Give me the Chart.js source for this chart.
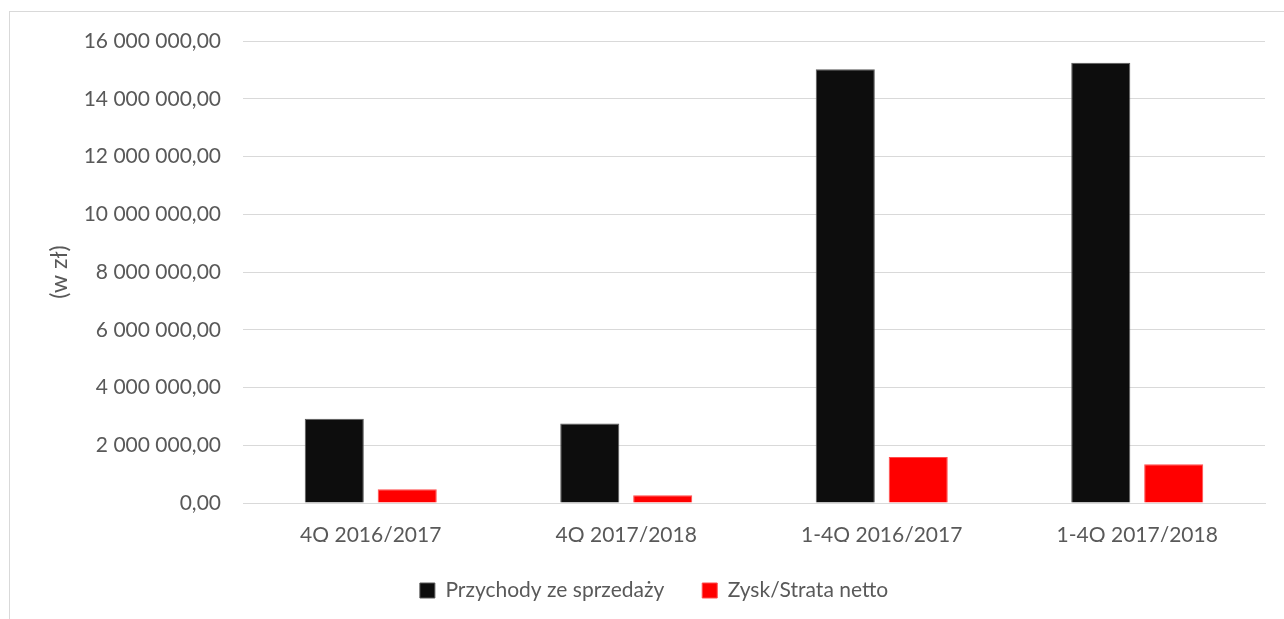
<!DOCTYPE html>
<html>
<head>
<meta charset="utf-8">
<script src="https://cdn.jsdelivr.net/npm/chart.js@4"></script>
<style>
  html, body { margin: 0; padding: 0; background: #fff; }
  body { width: 1284px; height: 619px; position: relative; overflow: hidden; }
  #frame {
    position: absolute; left: 9px; top: 11px; width: 1400px; height: 700px;
    border: 1px solid #d9d9d9;
  }
  #wrap { position: absolute; left: 0; top: 0; width: 1284px; height: 619px; }
</style>
</head>
<body>
<div id="frame"></div>
<div id="wrap"><canvas id="chart" width="1284" height="619"></canvas></div>
<script>
// kategorie i serie (w zł)
const categories = ['4Q 2016/2017', '4Q 2017/2018', '1-4Q 2016/2017', '1-4Q 2017/2018'];
const przychody = [2920000, 2750000, 15020000, 15250000];
const zysk = [475000, 270000, 1590000, 1340000];
const seriesNames = ['Przychody ze sprzedaży', 'Zysk/Strata netto'];
const yTicks = [0, 2000000, 4000000, 6000000, 8000000, 10000000, 12000000, 14000000, 16000000];

const textColor = '#595959';
const fontFamily = "Lato, 'Open Sans', sans-serif";
const fontSize = 21;

function formatPL(v) {
    const s = Math.round(v).toString().replace(/\B(?=(\d{3})+(?!\d))/g, ' ');
    return s + ',00';
}

const ctx = document.getElementById('chart').getContext('2d');
new Chart(ctx, {
    type: 'bar',
    data: {
        labels: categories,
        datasets: [{
            label: seriesNames[0],
            data: przychody,
            backgroundColor: '#0d0d0d',
            borderColor: '#5a5a5a',
            borderWidth: 1,
            categoryPercentage: 0.571,
            barPercentage: 0.81
        }, {
            label: seriesNames[1],
            data: zysk,
            backgroundColor: '#ff0000',
            borderColor: '#ff4d4d',
            borderWidth: 1,
            categoryPercentage: 0.571,
            barPercentage: 0.81
        }]
    },
    options: {
        responsive: false,
        animation: false,
        layout: { padding: { left: 43, right: 19, top: 41, bottom: 8 } },
        scales: {
            x: {
                clip: false,
                grid: { display: false, drawTicks: false },
                border: { color: '#d9d9d9', width: 1 },
                afterFit: (scale) => { scale.height = 39; },
                ticks: {
                    color: textColor,
                    font: { family: fontFamily, size: fontSize },
                    padding: 20,
                    maxRotation: 0
                }
            },
            y: {
                min: 0,
                max: 16000000,
                afterBuildTicks: (scale) => {
                    scale.ticks = yTicks.map(v => ({ value: v }));
                },
                afterFit: (scale) => { scale.width = 200; },
                grid: { color: '#d9d9d9', lineWidth: 1, drawTicks: false },
                border: { display: false },
                ticks: {
                    color: textColor,
                    font: { family: fontFamily, size: fontSize },
                    padding: 22,
                    callback: (v) => formatPL(v)
                },
                title: {
                    display: true,
                    text: '(w zł)',
                    color: textColor,
                    font: { family: fontFamily, size: 23 },
                    padding: { top: 3, bottom: 0 }
                }
            }
        },
        plugins: {
            legend: {
                position: 'bottom',
                labels: {
                    color: textColor,
                    font: { family: fontFamily, size: fontSize },
                    boxWidth: 15,
                    boxHeight: 15,
                    padding: 38
                }
            },
            tooltip: { enabled: false }
        }
    }
});
</script>
</body>
</html>
